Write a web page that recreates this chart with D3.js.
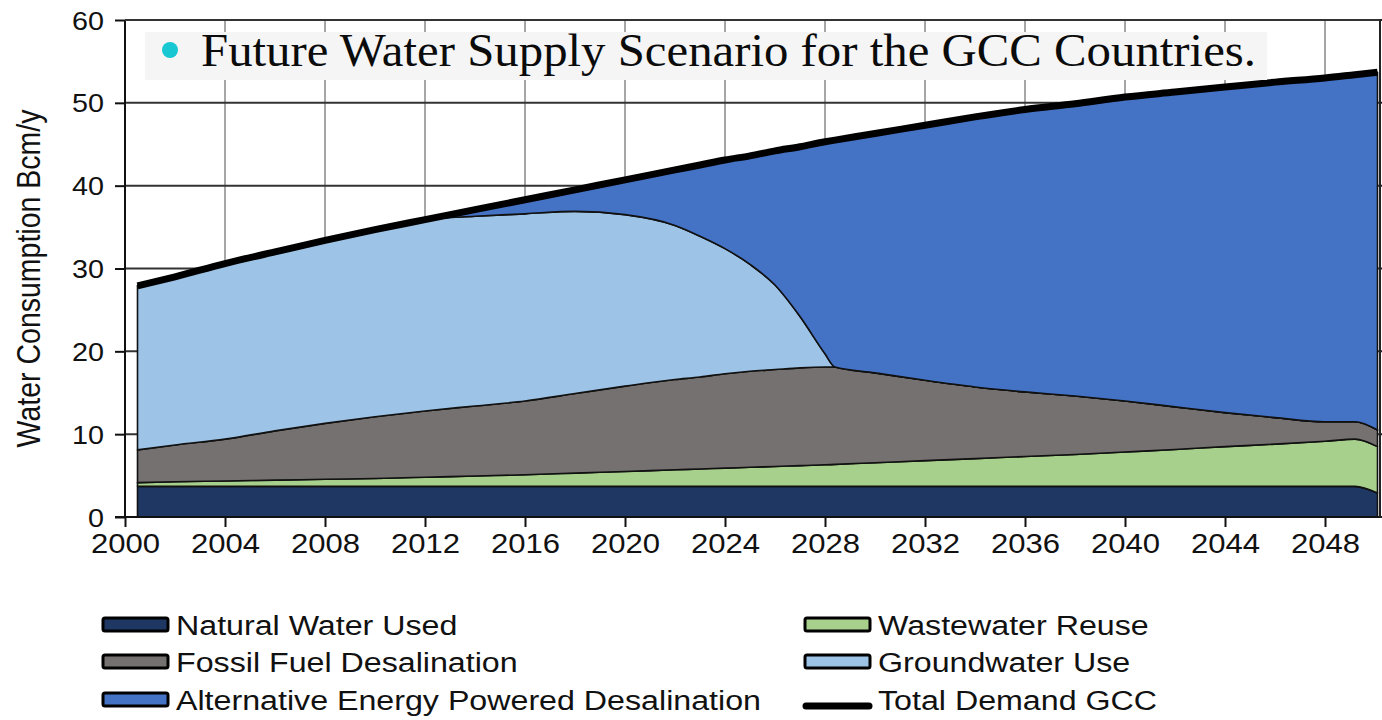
<!DOCTYPE html>
<html>
<head>
<meta charset="utf-8">
<script src="https://cdn.jsdelivr.net/npm/d3@7"></script>
<style>
  html, body { margin: 0; padding: 0; background: #fff; }
  svg { display: block; }
</style>
</head>
<body>
<svg id="chart" width="1382" height="720"></svg>
<script>
// Scenario years (projection points)
const years = [2000.5, 2002, 2004, 2006, 2008, 2010, 2012, 2014, 2016, 2018, 2020, 2022, 2023, 2024, 2025,
  2026, 2027, 2028, 2028.4, 2030, 2032, 2034, 2036, 2038, 2040, 2042, 2044, 2046, 2048, 2049.2, 2050.1];

// Supply by source, Bcm/y
const naturalWater = [3.7, 3.7, 3.7, 3.7, 3.7, 3.7, 3.7, 3.7, 3.7, 3.7, 3.7, 3.7, 3.7, 3.7, 3.7,
  3.7, 3.7, 3.7, 3.7, 3.7, 3.7, 3.7, 3.7, 3.7, 3.7, 3.7, 3.7, 3.7, 3.7, 3.7, 2.9];
const wastewaterReuse = [0.45, 0.55, 0.65, 0.75, 0.85, 0.95, 1.1, 1.25, 1.4, 1.6, 1.8, 2.0, 2.1, 2.2, 2.3,
  2.4, 2.5, 2.6, 2.65, 2.85, 3.1, 3.35, 3.6, 3.85, 4.15, 4.45, 4.8, 5.1, 5.45, 5.7, 5.6];
const fossilDesalination = [3.95, 4.45, 5.05, 5.95, 6.75, 7.45, 8.0, 8.45, 8.9, 9.6, 10.3, 10.9, 11.1, 11.4, 11.6,
  11.7, 11.8, 11.8, 11.75, 10.85, 9.7, 8.65, 7.8, 7.05, 6.15, 5.15, 4.1, 3.2, 2.35, 2.1, 2.0];
const groundwaterUse = [19.8, 20.3, 21.2, 21.6, 22.1, 22.6, 23.1, 22.9, 22.6, 22.0, 20.7, 18.6, 17.0, 15.1, 12.9,
  10.2, 6.2, 1.6, 0, 0, 0, 0, 0, 0, 0, 0, 0, 0, 0, 0, 0];
const alternativeDesalination = [0, 0, 0, 0, 0, 0, 0, 0.8, 1.7, 2.6, 4.2, 6.7, 8.6, 10.7, 13.1,
  16.2, 20.5, 25.6, 27.4, 28.9, 30.8, 32.6, 34.1, 35.3, 36.7, 38.0, 39.3, 40.5, 41.5, 41.9, 43.2];
const totalDemand = [27.9, 29.0, 30.6, 32.0, 33.4, 34.7, 35.9, 37.1, 38.3, 39.5, 40.7, 41.9, 42.5, 43.1, 43.6,
  44.2, 44.7, 45.3, 45.5, 46.3, 47.3, 48.3, 49.2, 49.9, 50.7, 51.3, 51.9, 52.5, 53.0, 53.4, 53.7];

const xTicks = [2000, 2004, 2008, 2012, 2016, 2020, 2024, 2028, 2032, 2036, 2040, 2044, 2048];
const yTicks = [0, 10, 20, 30, 40, 50, 60];

const seriesKeys = ["natural", "wastewater", "fossil", "groundwater", "alternative"];
const seriesNames = {
  natural: "Natural Water Used",
  wastewater: "Wastewater Reuse",
  fossil: "Fossil Fuel Desalination",
  groundwater: "Groundwater Use",
  alternative: "Alternative Energy Powered Desalination"
};
const seriesColors = {
  natural: "#1f3763",
  wastewater: "#a8d08d",
  fossil: "#767171",
  groundwater: "#9dc3e6",
  alternative: "#4472c4"
};

const chartTitle = "Future Water Supply Scenario for the GCC Countries.";
const yTitle = "Water Consumption Bcm/y";
const totalName = "Total Demand GCC";

// ---- layout ----
const svg = d3.select("#chart");
const plotL = 125, plotR = 1380, plotT = 20, plotB = 517;
const STRETCH = 1.15;
const sansFont = "'Liberation Sans', Arial, sans-serif";

const x = d3.scaleLinear().domain([2000, 2050.2]).range([plotL, plotR]);
const y = d3.scaleLinear().domain([0, 60]).range([plotB, plotT]);

const rows = years.map((yr, i) => ({
  year: yr,
  natural: naturalWater[i],
  wastewater: wastewaterReuse[i],
  fossil: fossilDesalination[i],
  groundwater: groundwaterUse[i],
  alternative: alternativeDesalination[i],
  total: totalDemand[i]
}));

svg.append("rect").attr("width", 1382).attr("height", 720).attr("fill", "#fff");

// grid
svg.append("g").selectAll("line").data(xTicks.slice(1)).join("line")
  .attr("x1", d => x(d)).attr("x2", d => x(d))
  .attr("y1", plotT).attr("y2", plotB)
  .attr("stroke", "#a6a6a6").attr("stroke-width", 2);
svg.append("g").selectAll("line").data(yTicks.slice(1)).join("line")
  .attr("x1", plotL).attr("x2", plotR)
  .attr("y1", d => y(d)).attr("y2", d => y(d))
  .attr("stroke", "#333").attr("stroke-width", 2);

// stacked areas
const stacked = d3.stack().keys(seriesKeys)(rows);
const area = d3.area()
  .x(d => x(d.data.year))
  .y0(d => y(d[0]))
  .y1(d => y(d[1]))
  .curve(d3.curveMonotoneX);

svg.append("g").selectAll("path").data(stacked).join("path")
  .attr("d", area)
  .attr("fill", d => seriesColors[d.key])
  .attr("stroke", "#111")
  .attr("stroke-width", 1.6)
  .attr("stroke-linejoin", "round");

// total demand
const line = d3.line().x(d => x(d.year)).y(d => y(d.total)).curve(d3.curveMonotoneX);
svg.append("path").datum(rows)
  .attr("d", line)
  .attr("fill", "none")
  .attr("stroke", "#000")
  .attr("stroke-width", 7);

// axes
const yAxis = svg.append("g")
  .attr("transform", `translate(${plotL},0)`)
  .call(d3.axisLeft(y).tickValues(yTicks).tickSize(10).tickSizeOuter(0).tickFormat(d3.format("d")));
const xAxis = svg.append("g")
  .attr("transform", `translate(0,${plotB})`)
  .call(d3.axisBottom(x).tickValues(xTicks).tickSize(10).tickSizeOuter(0).tickFormat(d3.format("d")));

[yAxis, xAxis].forEach(a => {
  a.select(".domain").attr("stroke", "#111").attr("stroke-width", 2);
  a.selectAll(".tick line").attr("stroke", "#111").attr("stroke-width", 2);
  a.selectAll(".tick text").attr("fill", "#111").attr("font-family", sansFont);
});
yAxis.select(".domain").attr("d", `M0,${plotT}V${plotB}`);
yAxis.selectAll(".tick text")
  .attr("font-size", 25).attr("x", -21 / STRETCH).attr("dy", "0.36em")
  .attr("transform", `scale(${STRETCH},1)`);
xAxis.select(".domain").attr("d", `M${plotL - 10},0H${plotR}`);
xAxis.selectAll(".tick text")
  .attr("font-size", 27).attr("y", 36).attr("dy", 0)
  .attr("transform", `scale(${STRETCH},1)`);

// frame top/right
svg.append("line").attr("x1", plotL).attr("x2", plotR).attr("y1", plotT).attr("y2", plotT)
  .attr("stroke", "#333").attr("stroke-width", 2);
svg.append("line").attr("x1", plotR).attr("x2", plotR).attr("y1", plotT).attr("y2", plotB)
  .attr("stroke", "#222").attr("stroke-width", 2);
svg.append("g").selectAll("line").data(yTicks).join("line")
  .attr("x1", plotR).attr("x2", plotR + 10)
  .attr("y1", d => y(d)).attr("y2", d => y(d))
  .attr("stroke", "#222").attr("stroke-width", 2);

// y axis title
svg.append("g")
  .attr("transform", `translate(40,${(plotT + plotB) / 2 + 10}) scale(${STRETCH},1) rotate(-90)`)
  .append("text")
  .attr("text-anchor", "middle")
  .attr("font-family", sansFont)
  .attr("font-size", 28.5)
  .attr("fill", "#111")
  .text(yTitle);

// title banner
svg.append("rect").attr("x", 145).attr("y", 32).attr("width", 1122).attr("height", 48)
  .attr("fill", "#f5f5f5");
svg.append("circle").attr("cx", 170).attr("cy", 50).attr("r", 8).attr("fill", "#17c8d3");
svg.append("text")
  .attr("x", 201).attr("y", 66)
  .attr("font-family", "'Liberation Serif', 'Times New Roman', serif")
  .attr("font-size", 46)
  .attr("fill", "#0b0b0b")
  .attr("textLength", 1055)
  .attr("lengthAdjust", "spacingAndGlyphs")
  .text(chartTitle);

// legend
const legendItems = [
  { key: "natural", col: 0, row: 0 },
  { key: "wastewater", col: 1, row: 0 },
  { key: "fossil", col: 0, row: 1 },
  { key: "groundwater", col: 1, row: 1 },
  { key: "alternative", col: 0, row: 2 },
  { key: "total", col: 1, row: 2 }
];
const colX = [103, 805];
const rowBase = [635, 672, 710];
const legend = svg.append("g");
legendItems.forEach(it => {
  const sx = colX[it.col], base = rowBase[it.row];
  if (it.key === "total") {
    legend.append("line")
      .attr("x1", sx + 1).attr("x2", sx + 64)
      .attr("y1", base - 4).attr("y2", base - 4)
      .attr("stroke", "#000").attr("stroke-width", 7).attr("stroke-linecap", "round");
  } else {
    legend.append("rect")
      .attr("x", sx).attr("y", base - 17).attr("width", 65).attr("height", 13).attr("rx", 2)
      .attr("fill", seriesColors[it.key]).attr("stroke", "#000").attr("stroke-width", 3);
  }
  legend.append("g")
    .attr("transform", `translate(${sx + 73},${base}) scale(${STRETCH},1)`)
    .append("text")
    .attr("font-family", sansFont)
    .attr("font-size", 28)
    .attr("fill", "#111")
    .text(it.key === "total" ? totalName : seriesNames[it.key]);
});
</script>
</body>
</html>
